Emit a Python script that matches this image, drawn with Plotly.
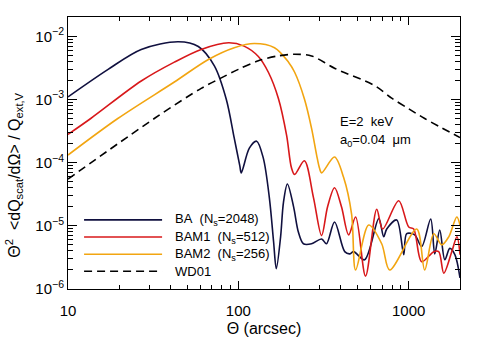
import numpy as np
import plotly.graph_objects as go

# scattering angle (arcsec) and Theta^2 <dQsca/dOmega> / Qext,V
theta_ba = [10, 17.2, 26.9, 44.4, 58.2, 72.3, 85, 94.6, 102, 104, 116, 128, 140, 152, 161,
            167, 177, 184, 194, 211, 225, 241, 269, 308, 329, 367, 421, 450, 475, 551,
            667, 713, 743, 850, 935, 973, 1085, 1191, 1346, 1422, 1521, 1629, 1742, 1866, 2000]
ba = [1.1e-3, 3.0e-3, 6.2e-3, 8.2e-3, 6.9e-3, 3.4e-3, 1.0e-3, 2.44e-4, 8.9e-5, 6.9e-5,
      1.7e-4, 2.19e-4, 1.19e-4, 2.8e-5, 5.6e-6, 2.1e-6, 6.7e-6, 2.36e-5, 4.6e-5, 2.0e-5,
      8.0e-6, 5.2e-6, 5.2e-6, 6.2e-6, 5.2e-6, 1.15e-5, 3.9e-6, 3.6e-6, 3.9e-6, 2.9e-6,
      1.3e-5, 6.7e-6, 8.9e-6, 1.24e-5, 3.5e-6, 7.5e-6, 7.2e-6, 4.7e-6, 1.28e-5, 3.6e-6,
      8.6e-6, 2.9e-6, 4.4e-6, 3.5e-6, 1.5e-6]

theta_bam1 = [10, 13.6, 26.9, 42.1, 60.5, 87.6, 108, 131, 150, 172, 192, 205, 214, 244, 276,
              308, 334, 367, 403, 444, 488, 558, 649, 703, 873, 1000, 1070, 1191, 1403, 1500,
              1606, 1790, 1920, 2000]
bam1 = [2.8e-4, 5e-4, 1.96e-3, 3.9e-3, 6.2e-3, 7.9e-3, 7.0e-3, 4.8e-3, 2.7e-3, 1.03e-3,
        2.7e-4, 8.3e-5, 6.5e-5, 1.07e-4, 2.8e-5, 7.0e-6, 2.0e-5, 4.0e-5, 2.0e-5, 7.2e-6,
        1.38e-5, 1.6e-6, 1.83e-5, 8.9e-6, 2.5e-5, 9.6e-6, 8.9e-6, 2.7e-6, 3.9e-6, 3.9e-6,
        1.78e-6, 3.9e-6, 6.7e-6, 3.5e-6]

theta_bam2 = [10, 19.6, 42.1, 66.7, 94.6, 124, 163, 197, 214, 244, 269, 288, 299, 308, 367,
              415, 462, 488, 582, 694, 773, 1114, 1241, 1403, 1563, 1718, 1916, 2000]
bam2 = [1.32e-4, 5e-4, 1.89e-3, 4.3e-3, 6.6e-3, 7.7e-3, 6.6e-3, 3.9e-3, 2.7e-3, 1.03e-3,
        3.5e-4, 1.32e-4, 8.3e-5, 6.9e-5, 1.23e-4, 5.8e-5, 1.53e-5, 2.0e-6, 1.03e-5, 5.2e-6,
        2.0e-6, 8.9e-6, 2.0e-6, 7.5e-6, 5.0e-6, 6.7e-6, 1.38e-5, 1.03e-5]

theta_wd = [10, 32.1, 60.5, 79.4, 100, 131, 171, 214, 269, 369, 631, 794, 995, 1241, 2000]
wd = [5.5e-5, 5e-4, 1.5e-3, 2.2e-3, 3.0e-3, 4.1e-3, 4.9e-3, 5.2e-3, 4.9e-3, 3.1e-3,
      1.66e-3, 1.05e-3, 7.2e-4, 5e-4, 2.5e-4]

names = ['BA\u00a0\u00a0(N<sub>s</sub>=2048)', 'BAM1\u00a0\u00a0(N<sub>s</sub>=512)',
         'BAM2\u00a0\u00a0(N<sub>s</sub>=256)', 'WD01']
colors = ['#10103f', '#d8181a', '#f2a511', 'black']
dashes = ['solid', 'solid', 'solid', '8px,5px']

x_ticks = [10, 100, 1000]
x_ticktext = ['10', '100', '1000']
y_ticks = [1e-6, 1e-5, 1e-4, 1e-3, 1e-2]
y_ticktext = ['10<sup>\u22126</sup>', '10<sup>\u22125</sup>', '10<sup>\u22124</sup>',
              '10<sup>\u22123</sup>', '10<sup>\u22122</sup>']

FONT = 'Liberation Sans'

fig = go.Figure()
series = [(theta_ba, ba), (theta_bam1, bam1), (theta_bam2, bam2), (theta_wd, wd)]
for (xs, ys), name, c, d in zip(series, names, colors, dashes):
    fig.add_trace(go.Scatter(x=xs, y=ys, mode='lines', name=name,
                             line=dict(color=c, width=1.6, dash=d, shape='spline', smoothing=0.9),
                             showlegend=False))

# hand-drawn legend, long line samples like the original
leg_y = [0.254, 0.191, 0.128, 0.065]
for name, c, d, y in zip(names, colors, dashes, leg_y):
    fig.add_shape(type='line', xref='paper', yref='paper', x0=0.041, x1=0.24, y0=y, y1=y,
                  line=dict(color=c, width=1.6, dash=d))
    fig.add_annotation(xref='paper', yref='paper', x=0.268, y=y, text=name, showarrow=False,
                       xanchor='left', yanchor='middle', font=dict(size=13, color='black'))

fig.add_annotation(xref='paper', yref='paper', x=0.689, y=0.616, text='E=2\u00a0\u00a0keV',
                   showarrow=False, xanchor='left', yanchor='middle', font=dict(size=13))
fig.add_annotation(xref='paper', yref='paper', x=0.689, y=0.547,
                   text='a<sub>0</sub>=0.04\u00a0\u00a0\u03bcm',
                   showarrow=False, xanchor='left', yanchor='middle', font=dict(size=13))

# y title as annotation so it sits where the original puts it
fig.add_annotation(xref='paper', yref='paper', x=-0.138, y=0.42, textangle=-90,
                   text='\u0398<sup>2</sup>\u00a0\u00a0&lt;dQ<sub>scat</sub>/d\u03a9&gt;\u00a0/\u00a0Q<sub>ext,V</sub>',
                   showarrow=False, xanchor='center', yanchor='middle', font=dict(size=16))

axis_common = dict(showline=True, linecolor='black', linewidth=1, mirror='allticks',
                   ticks='inside', tickcolor='black', showgrid=False, zeroline=False,
                   tickfont=dict(size=15, color='black'))

fig.update_xaxes(type='log', range=[1, np.log10(2000)], tickvals=x_ticks, ticktext=x_ticktext,
                 ticklen=8, minor=dict(ticks='inside', ticklen=4, dtick='D1', tickcolor='black'),
                 title=dict(text='\u0398 (arcsec)', font=dict(size=16), standoff=4),
                 ticklabelstandoff=8, **axis_common)
fig.update_yaxes(type='log', range=[-6, -1.694], tickvals=y_ticks, ticktext=y_ticktext,
                 ticklen=9, minor=dict(ticks='inside', ticklen=5, dtick='D1', tickcolor='black'),
                 **axis_common)

fig.update_layout(width=485, height=346, margin=dict(l=68, r=25, t=17, b=53),
                  plot_bgcolor='white', paper_bgcolor='white',
                  font=dict(family=FONT, color='black'))

# drop the browser's default 8px body margin so the figure sits at the page corner
fig.write_html('out.html', config={'displayModeBar': False},
               post_script="document.body.style.margin='0px';")
